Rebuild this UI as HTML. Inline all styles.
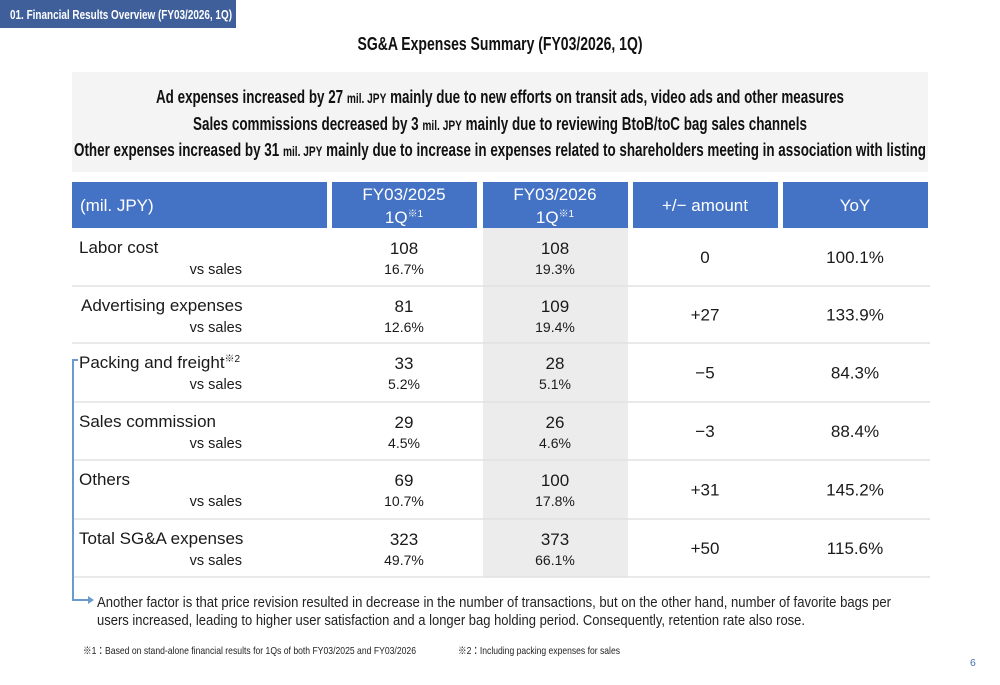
<!DOCTYPE html>
<html><head><meta charset="utf-8"><style>
html,body{margin:0;padding:0;background:#fff}
svg{display:block;font-family:"Liberation Sans","Noto Sans CJK JP",sans-serif}
</style></head><body>
<svg id="s" width="1000" height="685" viewBox="0 0 1000 685">
<rect x="0" y="0" width="236" height="28" fill="#3f5f9a"/>
<text x="10" y="19" font-size="12.5" font-weight="bold" fill="#fff" textLength="222" lengthAdjust="spacingAndGlyphs">01. Financial Results Overview (FY03/2026, 1Q)</text>
<text x="500" y="50" font-size="18" font-weight="bold" text-anchor="middle" fill="#111" textLength="285" lengthAdjust="spacingAndGlyphs">SG&amp;A Expenses Summary (FY03/2026, 1Q)</text>
<rect x="72" y="72" width="856" height="100" fill="#f4f4f4"/>
<text x="500" y="103" font-size="18.5" font-weight="bold" text-anchor="middle" fill="#111" textLength="688" lengthAdjust="spacingAndGlyphs">Ad expenses increased by 27 <tspan font-size="14">mil. JPY</tspan> mainly due to new efforts on transit ads, video ads and other measures</text>
<text x="500" y="130" font-size="18.5" font-weight="bold" text-anchor="middle" fill="#111" textLength="614" lengthAdjust="spacingAndGlyphs">Sales commissions decreased by 3 <tspan font-size="14">mil. JPY</tspan> mainly due to reviewing BtoB/toC bag sales channels</text>
<text x="500" y="156" font-size="18.5" font-weight="bold" text-anchor="middle" fill="#111" textLength="852" lengthAdjust="spacingAndGlyphs">Other expenses increased by 31 <tspan font-size="14">mil. JPY</tspan> mainly due to increase in expenses related to shareholders meeting in association with listing</text>
<g>
<rect x="72" y="182" width="255" height="46" fill="#4472c4"/>
<rect x="332" y="182" width="145" height="46" fill="#4472c4"/>
<rect x="483" y="182" width="145" height="46" fill="#4472c4"/>
<rect x="633" y="182" width="145" height="46" fill="#4472c4"/>
<rect x="783" y="182" width="145" height="46" fill="#4472c4"/>
<text x="80" y="211" font-size="17" fill="#fff">(mil. JPY)</text>
<text x="404" y="200" font-size="17" fill="#fff" text-anchor="middle">FY03/2025</text>
<text x="404" y="223" font-size="17" fill="#fff" text-anchor="middle">1Q<tspan font-size="10" dy="-6">※1</tspan></text>
<text x="555" y="200" font-size="17" fill="#fff" text-anchor="middle">FY03/2026</text>
<text x="555" y="223" font-size="17" fill="#fff" text-anchor="middle">1Q<tspan font-size="10" dy="-6">※1</tspan></text>
<text x="705" y="211" font-size="17" fill="#fff" text-anchor="middle">+/− amount</text>
<text x="855" y="211" font-size="17" fill="#fff" text-anchor="middle">YoY</text>
</g>
<rect x="483" y="228" width="145" height="349" fill="#ececec"/>
<g id="rows"></g>
<path d="M78 360 H73 V600 H88" fill="none" stroke="#6a9bd0" stroke-width="2"/>
<path d="M88 596 L94 600 L88 604 Z" fill="#6a9bd0"/>
<text x="97" y="607" font-size="15" fill="#222" textLength="794" lengthAdjust="spacingAndGlyphs">Another factor is that price revision resulted in decrease in the number of transactions, but on the other hand, number of favorite bags per</text>
<text x="97" y="625" font-size="15" fill="#222" textLength="708" lengthAdjust="spacingAndGlyphs">users increased, leading to higher user satisfaction and a longer bag holding period. Consequently, retention rate also rose.</text>
<text x="83" y="654" font-size="10.5" fill="#222" textLength="333" lengthAdjust="spacingAndGlyphs">※1：Based on stand-alone financial results for 1Qs of both FY03/2025 and FY03/2026</text>
<text x="458" y="654" font-size="10.5" fill="#222" textLength="162" lengthAdjust="spacingAndGlyphs">※2：Including packing expenses for sales</text>
<text x="970" y="666" font-size="10.5" fill="#3f6fb5">6</text>
</svg>
<script>
const items=["Labor cost","Advertising expenses","Packing and freight","Sales commission","Others","Total SG&A expenses"];
const prevVals=["108","81","33","29","69","323"];
const prevPct=["16.7%","12.6%","5.2%","4.5%","10.7%","49.7%"];
const currVals=["108","109","28","26","100","373"];
const currPct=["19.3%","19.4%","5.1%","4.6%","17.8%","66.1%"];
const diffs=["0","+27","−5","−3","+31","+50"];
const yoy=["100.1%","133.9%","84.3%","88.4%","145.2%","115.6%"];
const rowTops=[228,286,343,402,460,519,577];
const NS="http://www.w3.org/2000/svg";
const g=document.getElementById('rows');
function t(x,y,s,txt,anchor,name){const e=document.createElementNS(NS,'text');e.setAttribute('x',x);e.setAttribute('y',y);e.setAttribute('font-size',s);e.setAttribute('fill','#1a1a1a');if(anchor)e.setAttribute('text-anchor',anchor);e.textContent=txt;


g.appendChild(e);return e;}
items.forEach((it,i)=>{const y0=rowTops[i],y1=rowTops[i+1];
 const l=document.createElementNS(NS,'line');l.setAttribute('x1',72);l.setAttribute('x2',930);l.setAttribute('y1',y1);l.setAttribute('y2',y1);l.setAttribute('stroke','#e2e2e2');l.setAttribute('stroke-width','1.5');
 
 
 g.appendChild(l);
 const nx=(i===1)?81:79;
 const n=t(nx,y0+25,17,it,null,'row-label');
 if(i===2){const sp=document.createElementNS(NS,'tspan');sp.setAttribute('font-size','10');sp.setAttribute('dy','-6');sp.textContent='※2';n.appendChild(sp);}
 t(242,y0+46,14.5,'vs sales','end','vs-sales-label');
 t(404,y0+26,17,prevVals[i],'middle','prev-value');
 t(404,y0+46,14,prevPct[i],'middle','prev-pct');
 t(555,y0+26,17,currVals[i],'middle','curr-value');
 t(555,y0+46,14,currPct[i],'middle','curr-pct');
 const mid=(y0+y1)/2+6;
 t(705,mid,17,diffs[i],'middle','diff-amount');
 t(855,mid,17,yoy[i],'middle','yoy-value');
});
</script>
</body></html>
